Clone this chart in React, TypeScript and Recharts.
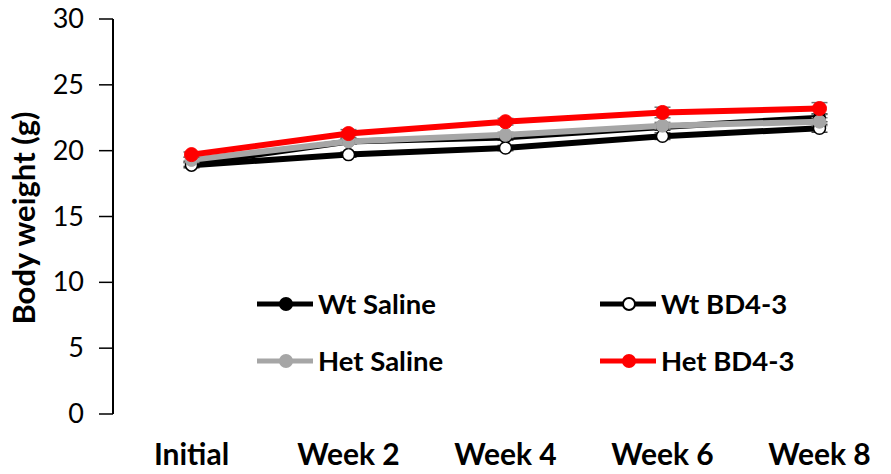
import { ErrorBar, Line, LineChart, XAxis, YAxis } from "recharts";

const weeks = ["Initial", "Week 2", "Week 4", "Week 6", "Week 8"];
const wtSaline = [19.0, 20.7, 21.0, 21.8, 22.5];
const wtBd43 = [18.9, 19.7, 20.2, 21.1, 21.7];
const hetSaline = [19.3, 20.7, 21.2, 21.9, 22.2];
const hetBd43 = [19.7, 21.3, 22.2, 22.9, 23.2];
const hetBd43Err = [0.2, 0.3, 0.25, 0.4, 0.45];
const otherErr = [0.2, 0.2, 0.2, 0.25, 0.3];
const yTicks = [0, 5, 10, 15, 20, 25, 30];
const edgeTicks = [0, 1, 2, 3, 4, 5];

const data = weeks.map((week, i) => ({
  week,
  wtSaline: wtSaline[i],
  wtBd43: wtBd43[i],
  hetSaline: hetSaline[i],
  hetBd43: hetBd43[i],
  hetBd43Err: hetBd43Err[i],
  otherErr: otherErr[i],
}));

const FONT = "Lato, 'Open Sans', sans-serif";

const legendItems = [
  { label: "Wt Saline", color: "#000000", fill: "#000000" },
  { label: "Wt BD4-3", color: "#000000", fill: "#ffffff" },
  { label: "Het Saline", color: "#a6a6a6", fill: "#a6a6a6" },
  { label: "Het BD4-3", color: "#ff0000", fill: "#ff0000" },
];

function LegendBox() {
  return (
    <div
      style={{
        position: "absolute",
        left: 249,
        top: 281,
        display: "grid",
        gridTemplateColumns: "343px 300px",
        rowGap: 27,
        fontFamily: FONT,
      }}
    >
      {legendItems.map((item) => (
        <div key={item.label} style={{ display: "flex", alignItems: "center", height: 30 }}>
          <svg width={61} height={20} style={{ flex: "none" }}>
            <line x1={0} y1={10} x2={56} y2={10} stroke={item.color} strokeWidth={5} />
            <circle cx={29} cy={10} r={6} fill={item.fill} stroke={item.color} strokeWidth={2} />
          </svg>
          <span style={{ fontWeight: 700, fontSize: 27.5, color: "#000", lineHeight: "30px" }}>{item.label}</span>
        </div>
      ))}
    </div>
  );
}

function YLabel() {
  const cx = 27;
  const cy = 210;
  return (
    <text
      x={cx}
      y={cy}
      transform={`rotate(-90, ${cx}, ${cy})`}
      textAnchor="middle"
      fill="#000"
      fontSize={31}
      fontWeight={700}
      fontFamily={FONT}
    >
      Body weight  (g)
    </text>
  );
}

function YTick(props: any) {
  const { x, y, payload } = props;
  return (
    <text x={x - 13} y={y + 9} textAnchor="end" fill="#000" fontSize={27} fontFamily={FONT}>
      {payload.value}
    </text>
  );
}

export default function App() {
  return (
    <div style={{ width: 883, height: 466, overflow: "hidden", position: "relative" }}>
      <LineChart
        width={900}
        height={466}
        data={data}
        margin={{ top: 11, right: 10, left: 0, bottom: 0 }}
        style={{ fontFamily: FONT }}
      >
        <XAxis
          xAxisId="edges"
          type="number"
          domain={[0, 5]}
          ticks={edgeTicks}
          tickFormatter={() => ""}
          axisLine={{ stroke: "#000", strokeWidth: 3 }}
          tickLine={{ stroke: "#000", strokeWidth: 2 }}
          tickSize={9}
          height={0}
        />
        <XAxis
          dataKey="week"
          scale="band"
          tickLine={false}
          axisLine={false}
          tickSize={0}
          tickMargin={30}
          height={60}
          tick={{ fill: "#000", fontSize: 30, fontWeight: 700 }}
        />
        <YAxis
          domain={[0, 30]}
          ticks={yTicks}
          width={105}
          tickSize={14}
          tickMargin={2}
          interval={0}
          axisLine={{ stroke: "#000", strokeWidth: 2 }}
          tickLine={{ stroke: "#000", strokeWidth: 1.5 }}
          tick={<YTick />}
          label={<YLabel />}
        />
        <Line
          dataKey="wtSaline"
          name="Wt Saline"
          stroke="#000000"
          strokeWidth={6}
          dot={{ r: 6, fill: "#000000", stroke: "#000000", strokeWidth: 1 }}
          isAnimationActive={false}
        >
          <ErrorBar dataKey="otherErr" width={8} stroke="#404040" strokeWidth={1.5} />
        </Line>
        <Line
          dataKey="wtBd43"
          name="Wt BD4-3"
          stroke="#000000"
          strokeWidth={6}
          dot={{ r: 6, fill: "#ffffff", stroke: "#000000", strokeWidth: 1.5 }}
          isAnimationActive={false}
        >
          <ErrorBar dataKey="otherErr" width={8} stroke="#404040" strokeWidth={1.5} />
        </Line>
        <Line
          dataKey="hetSaline"
          name="Het Saline"
          stroke="#a6a6a6"
          strokeWidth={6}
          dot={{ r: 6.5, fill: "#a6a6a6", stroke: "#a6a6a6", strokeWidth: 1 }}
          isAnimationActive={false}
        >
          <ErrorBar dataKey="otherErr" width={8} stroke="#808080" strokeWidth={1.5} />
        </Line>
        <Line
          dataKey="hetBd43"
          name="Het BD4-3"
          stroke="#ff0000"
          strokeWidth={6}
          dot={{ r: 7, fill: "#ff0000", stroke: "#ff0000", strokeWidth: 1 }}
          isAnimationActive={false}
        >
          <ErrorBar dataKey="hetBd43Err" width={8} stroke="#707070" strokeWidth={1.5} />
        </Line>
      </LineChart>
      <LegendBox />
    </div>
  );
}
